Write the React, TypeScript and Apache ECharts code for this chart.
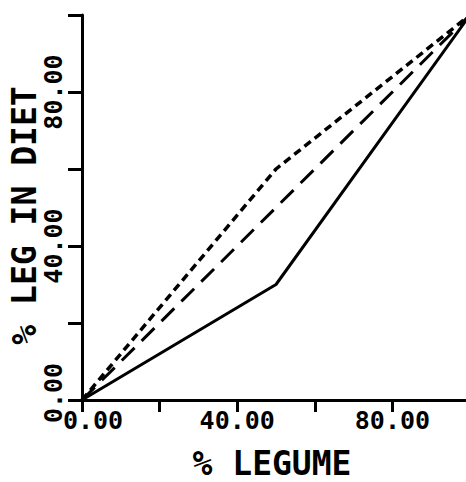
import React, { useEffect, useRef } from "react";
import * as echarts from "echarts";

const xTicks = [0, 20, 40, 60, 80, 100];
const labeledTicks = [0, 40, 80];
const solidLine = [[0, 0], [50, 30], [100, 100]];
const shortDashLine = [[0, 0], [50, 60], [100, 100]];
const longDashLine = [[0, 0], [50, 50], [100, 100]];

const FONT = "DejaVu Sans Mono";

export default function App() {
  const ref = useRef<HTMLDivElement>(null);
  useEffect(() => {
    const chart = echarts.init(ref.current!, null, { renderer: "svg" });
    const fmt = (v: number) => (labeledTicks.includes(v) ? v.toFixed(2) : "");
    chart.setOption({
      animation: false,
      backgroundColor: "#ffffff",
      grid: { left: 82, top: 15, width: 388, height: 385, containLabel: false, outerBoundsMode: "none" },
      xAxis: {
        type: "value",
        min: xTicks[0],
        max: xTicks[xTicks.length - 1],
        interval: 20,
        name: "% LEGUME",
        nameLocation: "middle",
        nameGap: 48,
        nameMoveOverlap: false,
        nameTextStyle: { fontFamily: FONT, fontWeight: "bold", fontSize: 33, lineHeight: 30, color: "#000", padding: [0, 8, 0, 0] },
        axisLine: { lineStyle: { color: "#000", width: 3 } },
        axisTick: { show: true, length: 12, lineStyle: { color: "#000", width: 3 } },
        splitLine: { show: false },
        axisLabel: {
          formatter: (v: number) => (v === 0 ? "{z|" + fmt(v) + "}" : fmt(v)),
          fontFamily: FONT,
          fontWeight: "bold",
          fontSize: 25,
          color: "#000",
          margin: 8,
          showMaxLabel: true,
          rich: { z: { fontFamily: FONT, fontWeight: "bold", fontSize: 25, color: "#000", padding: [0, 0, 0, 22] } },
        },
      },
      yAxis: {
        type: "value",
        min: xTicks[0],
        max: xTicks[xTicks.length - 1],
        interval: 20,
        name: "% LEG IN DIET",
        nameLocation: "middle",
        nameGap: 43,
        nameMoveOverlap: false,
        nameRotate: 90,
        nameTextStyle: { fontFamily: FONT, fontWeight: "bold", fontSize: 33, lineHeight: 30, color: "#000", padding: [0, 16, 0, 0] },
        axisLine: { lineStyle: { color: "#000", width: 3 } },
        axisTick: { show: true, length: 14, lineStyle: { color: "#000", width: 3 } },
        splitLine: { show: false },
        axisLabel: {
          formatter: (v: number) => (v === 0 ? "{z|" + fmt(v) + "}" : fmt(v)),
          rotate: 90,
          fontFamily: FONT,
          fontWeight: "bold",
          fontSize: 25,
          color: "#000",
          margin: 16,
          rich: { z: { fontFamily: FONT, fontWeight: "bold", fontSize: 25, color: "#000", padding: [0, 0, 0, 14] } },
        },
      },
      series: [
        {
          type: "line",
          data: solidLine,
          symbol: "none",
          lineStyle: { color: "#000", width: 3, type: "solid" },
        },
        {
          type: "line",
          data: shortDashLine,
          symbol: "none",
          lineStyle: { color: "#000", width: 3.5, type: [8, 5] },
        },
        {
          type: "line",
          data: longDashLine,
          symbol: "none",
          lineStyle: { color: "#000", width: 3, type: [18, 10] },
        },
      ],
    });
    return () => chart.dispose();
  }, []);
  return <div ref={ref} style={{ width: 466, height: 482, position: "absolute", left: 0, top: 0 }} />;
}
